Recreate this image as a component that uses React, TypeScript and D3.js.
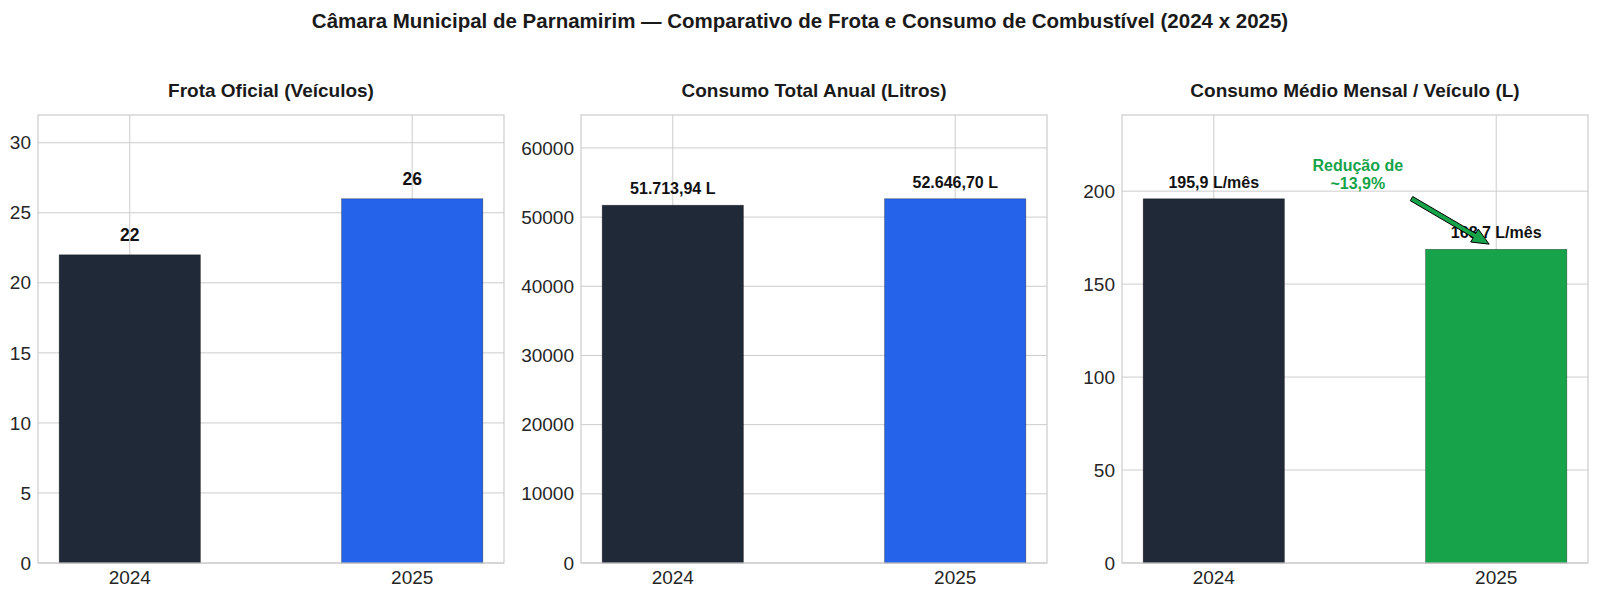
import React from 'react';
import * as d3 from 'd3';

const years = ['2024', '2025'];
const frota = [22, 26];
const consumoTotal = [51713.94, 52646.7];
const consumoMedio = [195.9, 168.7];

const frotaTicks = [0, 5, 10, 15, 20, 25, 30];
const totalTicks = [0, 10000, 20000, 30000, 40000, 50000, 60000];
const medioTicks = [0, 50, 100, 150, 200];

const DARK = '#1f2937';
const BLUE = '#2563eb';
const GREEN = '#16a34a';
const GRID = '#cccccc';
const FONT = '"Liberation Sans", Arial, sans-serif';

const W = 1600;
const H = 599;
const TOP = 115;
const BOTTOM = 563;
const PANEL_W = 466;
const PANEL_X = [38, 581, 1122];

const fmtBR = (v: number, digits: number) =>
  v.toLocaleString('pt-BR', { minimumFractionDigits: digits, maximumFractionDigits: digits });

interface PanelProps {
  x0: number;
  title: string;
  values: number[];
  ticks: number[];
  colors: string[];
  labels: string[];
  labelSize: number;
  labelGap: number;
  children?: (x: d3.ScaleLinear<number, number>, y: d3.ScaleLinear<number, number>) => React.ReactNode;
}

const Panel: React.FC<PanelProps> = ({ x0, title, values, ticks, colors, labels, labelSize, labelGap, children }) => {
  // categories at 0 and 1, bar width 0.5, matplotlib default margins
  const x = d3.scaleLinear().domain([-0.325, 1.325]).range([x0, x0 + PANEL_W]);
  const y = d3.scaleLinear().domain([0, (d3.max(values) || 0) * 1.23]).range([BOTTOM, TOP]);
  const bw = x(0.5) - x(0);

  return (
    <g>
      <rect x={x0} y={TOP} width={PANEL_W} height={BOTTOM - TOP} fill="white" />
      {ticks.map((t) => (
        <line key={'h' + t} x1={x0} x2={x0 + PANEL_W} y1={y(t)} y2={y(t)} stroke={GRID} strokeWidth={1} />
      ))}
      {years.map((_, i) => (
        <line key={'v' + i} x1={x(i)} x2={x(i)} y1={TOP} y2={BOTTOM} stroke={GRID} strokeWidth={1} />
      ))}
      {values.map((v, i) => (
        <rect
          key={'b' + i}
          x={x(i) - bw / 2}
          y={y(v)}
          width={bw}
          height={y(0) - y(v)}
          fill={colors[i]}
          stroke="#000"
          strokeOpacity={0.45}
          strokeWidth={0.7}
        />
      ))}
      <rect x={x0} y={TOP} width={PANEL_W} height={BOTTOM - TOP} fill="none" stroke={GRID} strokeWidth={1.2} />
      {ticks.map((t) => (
        <text key={'yt' + t} x={x0 - 7} y={y(t)} dy="0.35em" textAnchor="end" fontSize={19} fill="#262626">
          {t}
        </text>
      ))}
      {years.map((yr, i) => (
        <text key={'xt' + i} x={x(i)} y={BOTTOM + 21} textAnchor="middle" fontSize={19} fill="#262626">
          {yr}
        </text>
      ))}
      {values.map((v, i) => (
        <text
          key={'l' + i}
          x={x(i)}
          y={y(v) - labelGap}
          textAnchor="middle"
          fontSize={labelSize}
          fontWeight="bold"
          fill="#111"
        >
          {labels[i]}
        </text>
      ))}
      <text x={x0 + PANEL_W / 2} y={97} textAnchor="middle" fontSize={19} fontWeight="bold" fill="#1a1a1a">
        {title}
      </text>
      {children && children(x, y)}
    </g>
  );
};

// arrow from (x1,y1) to tip (x2,y2), filled shaft + head
const arrowPath = (x1: number, y1: number, x2: number, y2: number) => {
  const dx = x2 - x1;
  const dy = y2 - y1;
  const len = Math.sqrt(dx * dx + dy * dy);
  const ux = dx / len;
  const uy = dy / len;
  const nx = -uy;
  const ny = ux;
  const shaft = 2.4;
  const head = 7.5;
  const headLen = 17;
  const bx = x2 - ux * headLen;
  const by = y2 - uy * headLen;
  const p = [
    [x1 + nx * shaft, y1 + ny * shaft],
    [bx + nx * shaft, by + ny * shaft],
    [bx + nx * head, by + ny * head],
    [x2, y2],
    [bx - nx * head, by - ny * head],
    [bx - nx * shaft, by - ny * shaft],
    [x1 - nx * shaft, y1 - ny * shaft],
  ];
  return 'M' + p.map((q) => q.join(',')).join('L') + 'Z';
};

export default function App() {
  return (
    <svg
      width={W}
      height={H}
      style={{ position: 'absolute', left: 0, top: 0, fontFamily: FONT, background: 'white' }}
    >
      <rect width={W} height={H} fill="white" />
      <text x={W / 2} y={28} textAnchor="middle" fontSize={20.5} fontWeight="bold" fill="#1a1a1a">
        Câmara Municipal de Parnamirim — Comparativo de Frota e Consumo de Combustível (2024 x 2025)
      </text>
      <Panel
        x0={PANEL_X[0]}
        title="Frota Oficial (Veículos)"
        values={frota}
        ticks={frotaTicks}
        colors={[DARK, BLUE]}
        labels={frota.map((v) => String(v))}
        labelSize={17.5}
        labelGap={14}
      />
      <Panel
        x0={PANEL_X[1]}
        title="Consumo Total Anual (Litros)"
        values={consumoTotal}
        ticks={totalTicks}
        colors={[DARK, BLUE]}
        labels={consumoTotal.map((v) => fmtBR(v, 2) + ' L')}
        labelSize={16}
        labelGap={11}
      />
      <Panel
        x0={PANEL_X[2]}
        title="Consumo Médio Mensal / Veículo (L)"
        values={consumoMedio}
        ticks={medioTicks}
        colors={[DARK, GREEN]}
        labels={consumoMedio.map((v) => fmtBR(v, 1) + ' L/mês')}
        labelSize={16}
        labelGap={11}
      >
        {(x, y) => (
          <g>
            <path
              d={arrowPath(x(0.7), y(196), x(0.975), y(171.5))}
              fill={GREEN}
              stroke="#000"
              strokeWidth={1}
              strokeLinejoin="miter"
            />
            <text x={x(0.51)} y={y(211)} textAnchor="middle" fontSize={16} fontWeight="bold" fill={GREEN}>
              <tspan x={x(0.51)}>Redução de</tspan>
              <tspan x={x(0.51)} dy={18}>
                ~13,9%
              </tspan>
            </text>
          </g>
        )}
      </Panel>
    </svg>
  );
}
